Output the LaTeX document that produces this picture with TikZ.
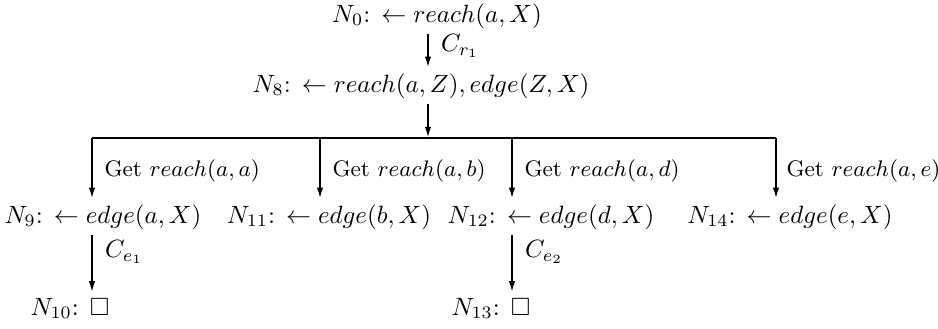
\documentclass[tikz,border=0pt]{standalone}
\usepackage{amssymb}
\usetikzlibrary{arrows.meta}

\begin{document}
\begin{tikzpicture}[x=0.4pt,y=-0.4pt,
  goal/.style={anchor=base,inner sep=2pt},
  lbl/.style={anchor=west,inner sep=1pt},
  getlbl/.style={lbl,inner sep=0pt,font=\small},
  arr/.style={line width=0.8pt,-{Latex[length=4.5pt,width=2.6pt]}},
  bar/.style={line width=0.8pt}]
\useasboundingbox (0,0) rectangle (938,328);

\node[goal] (n0) at (437,22) {$N_0$: $\leftarrow reach(a,X)$};
\node[goal] (n8) at (421,92) {$N_8$: $\leftarrow reach(a,Z), edge(Z,X)$};

\node[goal] (n9) at (103,223) {$N_9$: $\leftarrow edge(a,X)$};
\node[goal] (n11) at (329,223) {$N_{11}$: $\leftarrow edge(b,X)$};
\node[goal] (n12) at (551,223) {$N_{12}$: $\leftarrow edge(d,X)$};
\node[goal] (n14) at (790,223) {$N_{14}$: $\leftarrow edge(e,X)$};

\node[goal] (n10) at (70,315) {$N_{10}$: $\Box$};
\node[goal] (n13) at (491,315) {$N_{13}$: $\Box$};

\coordinate (top) at (428,138);
\coordinate (b9) at (92,138);
\coordinate (b11) at (320,138);
\coordinate (b12) at (512,138);
\coordinate (b14) at (776,138);

\draw[arr] (n0.south -| top) -- (n8.north -| top);
\draw[arr] (n8.south -| top) -- (top);
\draw[bar] (b9) -- (b14);

\draw[arr] (b9) -- (b9 |- n9.north);
\draw[arr] (b11) -- (b11 |- n11.north);
\draw[arr] (b12) -- (b12 |- n12.north);
\draw[arr] (b14) -- (b14 |- n14.north);

\draw[arr] (b9 |- n9.south) -- (b9 |- n10.north);
\draw[arr] (b12 |- n12.south) -- (b12 |- n13.north);

\node[lbl] (cr1) at (438,46) {$C_{r_1}$};
\node[getlbl] (g9) at (104,171) {Get $reach(a,a)$};
\node[getlbl] (g11) at (332,171) {Get $reach(a,b)$};
\node[getlbl] (g12) at (524,171) {Get $reach(a,d)$};
\node[getlbl] (g14) at (786,171) {Get $reach(a,e)$};
\node[lbl] (ce1) at (102,252) {$C_{e_1}$};
\node[lbl] (ce2) at (522,252) {$C_{e_2}$};

\end{tikzpicture}
\end{document}
